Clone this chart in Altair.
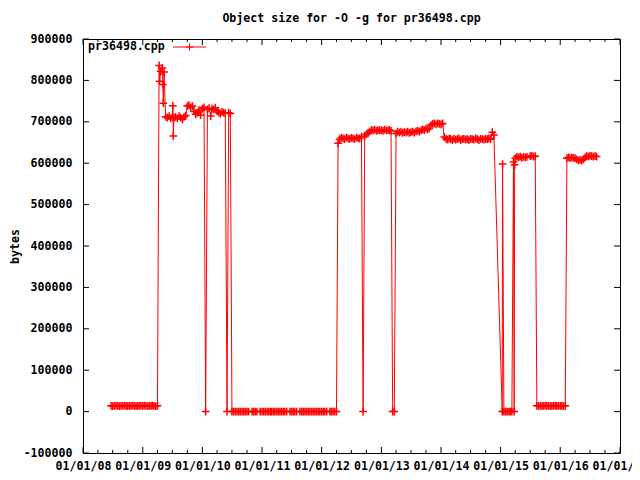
import altair as alt
import pandas as pd

# ---- data: object size (bytes) sampled on days 1, 11, 21 of each month ----
years = [2008, 2009, 2010, 2011, 2012, 2013, 2014, 2015, 2016]
slot_days = [1, 11, 21]

y2008 = [None, None, None, None, None, None, None, None, None, None, None, None,
         None, None, None, None, None, 14000, 13500, 14000, 14500, 14000, 13500, 14000,
         14000, 14500, 14000, 13500, 14000, 14000, 14500, 14000, 13500, 14000, 14000, 14500]
y2009 = [14000, 14500, 14000, 13500, 14000, 14000, 14500, 14000, 13500, 14000, 836000, 822000,
         830000, 820000, 712000, 710000, 714000, 708000, 712000, 710000, 712000, 708000, 714000, 710000,
         706000, 712000, 715000, 738000, 740000, 735000, 738000, 725000, 718000, 722000, 728000, 716000]
y2010 = [732000, 735000, 0, 730000, 733000, 714000, 732000, 730000, 734000, 726000, 722000, 720000,
         724000, 722000, 721000, 0, 722000, 720000, 0, 0, 0, 0, 0, 0,
         0, 0, 0, 0, 0, None, 0, 0, 0, 0, None, 0]
y2011 = [0, 0, 0, 0, 0, 0, 0, 0, 0, 0, 0, 0,
         0, 0, 0, 0, None, 0, 0, 0, 0, 0, None, 0,
         0, 0, 0, 0, 0, 0, 0, 0, 0, 0, 0, 0]
y2012 = [0, 0, 0, 0, None, 0, 0, 0, 0, 0, 648000, 658000,
         662000, 660000, 658000, 662000, 660000, 658000, 661000, 660000, 658000, 662000, 660000, 660000,
         664000, 0, 666000, 670000, 672000, 676000, 680000, 679000, 681000, 678000, 680000, 679000]
y2013 = [680000, 678000, 681000, 679000, 680000, 680000, 678000, 0, 0, 672000, 676000, 674000,
         676000, 673000, 675000, 674000, 676000, 673000, 675000, 676000, 674000, 677000, 678000, 676000,
         679000, 682000, 680000, 684000, 682000, 684000, 692000, 695000, 696000, 694000, 696000, 695000]
y2014 = [694000, 696000, 663000, 659000, 657000, 660000, 658000, 656000, 659000, 657000, 658000, 660000,
         656000, 658000, 659000, 657000, 658000, 656000, 659000, 658000, 657000, 660000, 658000, 656000,
         659000, 658000, 657000, 659000, 658000, 660000, 658000, 675000, 668000, None, None, None]
y2015 = [None, 0, 0, 0, 0, 0, 0, 0, 603000, 612000, 616000, 614000,
         616000, 613000, 615000, 614000, 615000, None, 617000, 618000, 616000, 617000, 14000, 14000,
         14000, 13500, 14000, 14500, 14000, 14000, 13500, 14000, 14000, 14500, 14000, 14000]
y2016 = [14000, 14000, 13500, 14000, 612000, 614000, 612000, 614000, 613000, 612000, 609000, 607000,
         608000, 606000, 609000, 614000, 617000, 616000, 618000, 617000, 616000, 617000, 616000, None,
         None, None, None, None, None, None, None, None, None, None, None, None]

extra_dates = ["2009-04-14", "2009-05-04", "2009-05-07", "2009-07-04", "2009-07-07",
               "2015-01-13", "2015-03-25", "2015-03-28"]
extra_values = [798000, 790000, 745000, 739000, 666000, 598000, 0, 596000]

y_ticks = [-100000, 0, 100000, 200000, 300000, 400000, 500000, 600000, 700000, 800000, 900000]
x_major = ["2008-01-01", "2009-01-01", "2010-01-01", "2011-01-01", "2012-01-01",
           "2013-01-01", "2014-01-01", "2015-01-01", "2016-01-01", "2017-01-01"]
x_minor = [f"{y}-{m}-01" for y in range(2008, 2017) for m in ("04", "07", "10")]

series_name = "pr36498.cpp"
title_text = "Object size for -O -g for pr36498.cpp"

rows = []
for year, vals in zip(years, [y2008, y2009, y2010, y2011, y2012, y2013, y2014, y2015, y2016]):
    for i, v in enumerate(vals):
        if v is None:
            continue
        rows.append({"date": f"{year}-{i // 3 + 1:02d}-{slot_days[i % 3]:02d}", "bytes": v})
for d, v in zip(extra_dates, extra_values):
    rows.append({"date": d, "bytes": v})
df = pd.DataFrame(rows).sort_values("date").reset_index(drop=True)

W, H = 537, 414
FONT = "DejaVu Sans Mono"
FS = 11.6
RED = "#ff0000"

xscale = alt.Scale(type="utc",
                   domain=[alt.DateTime(year=2008, month=1, date=1, utc=True),
                           alt.DateTime(year=2017, month=1, date=1, utc=True)])
yscale = alt.Scale(domain=[-100000, 900000], nice=False, zero=False)

X = alt.X("date:T", scale=xscale, title=None,
          axis=alt.Axis(values=[alt.DateTime(year=y, month=1, date=1, utc=True) for y in range(2008, 2018)],
                        format="%m/%d/%y", ticks=False, tickSize=0, domain=False, grid=False,
                        labelFont=FONT, labelFontSize=FS, labelFontWeight="bold", labelColor="black",
                        labelPadding=7, labelOverlap=False, labelFlush=False))
Y = alt.Y("bytes:Q", scale=yscale, title="bytes",
          axis=alt.Axis(values=y_ticks, labelExpr="'' + datum.value", ticks=False, tickSize=0,
                        domain=False, grid=False,
                        labelFont=FONT, labelFontSize=FS, labelFontWeight="bold", labelColor="black",
                        labelPadding=11, labelOverlap=False,
                        titleFont=FONT, titleFontSize=FS, titleFontWeight="bold", titleColor="black",
                        titleAngle=-90, titleX=-68, titleY=H / 2, titleAlign="center",
                        titleBaseline="middle"))

cross = "M-1,0H1M0,-1V1"

line = alt.Chart(df).mark_line(color=RED, strokeWidth=1).encode(x=X, y=Y)
pts = alt.Chart(df).mark_point(shape=cross, size=60, color=RED, filled=False,
                               strokeWidth=1.5, opacity=1).encode(x=X, y=Y)

xmaj = pd.DataFrame({"date": x_major})
xmin = pd.DataFrame({"date": x_minor})
yt = pd.DataFrame({"bytes": y_ticks})

tick_style = dict(color="black", strokeWidth=1)
xt_bottom = alt.Chart(xmaj).mark_rule(**tick_style).encode(x=X, y=alt.value(H), y2=alt.value(H - 6))
xt_top = alt.Chart(xmaj).mark_rule(**tick_style).encode(x=X, y=alt.value(0), y2=alt.value(6))
xm_bottom = alt.Chart(xmin).mark_rule(**tick_style).encode(x=X, y=alt.value(H), y2=alt.value(H - 3))
xm_top = alt.Chart(xmin).mark_rule(**tick_style).encode(x=X, y=alt.value(0), y2=alt.value(3))
yt_left = alt.Chart(yt).mark_rule(**tick_style).encode(y=Y, x=alt.value(0), x2=alt.value(6))
yt_right = alt.Chart(yt).mark_rule(**tick_style).encode(y=Y, x=alt.value(W - 6), x2=alt.value(W))

leg = pd.DataFrame({"label": [series_name]})
leg_text = alt.Chart(leg).mark_text(font=FONT, fontSize=FS, fontWeight="bold", color="black",
                                    align="left", baseline="middle").encode(
    x=alt.value(5), y=alt.value(8), text="label:N")
leg_line = alt.Chart(leg).mark_rule(color=RED, strokeWidth=1).encode(
    x=alt.value(90), x2=alt.value(123), y=alt.value(8))
leg_pt = alt.Chart(leg).mark_point(shape=cross, size=60, color=RED, filled=False,
                                   strokeWidth=1, opacity=1).encode(x=alt.value(106.5), y=alt.value(8))

chart = alt.layer(line, pts, xt_bottom, xt_top, xm_bottom, xm_top, yt_left, yt_right,
                  leg_text, leg_line, leg_pt).properties(
    width=W, height=H,
    title=alt.TitleParams(title_text, font=FONT, fontSize=FS, fontWeight="bold", color="black",
                          anchor="middle", offset=8),
    autosize=alt.AutoSizeParams(type="none"),
    padding={"left": 75, "top": 31, "right": 12, "bottom": 19},
    background="white",
).configure_view(stroke="black", strokeWidth=1)

chart.save("out.html", embed_options={"renderer": "svg", "actions": False})
